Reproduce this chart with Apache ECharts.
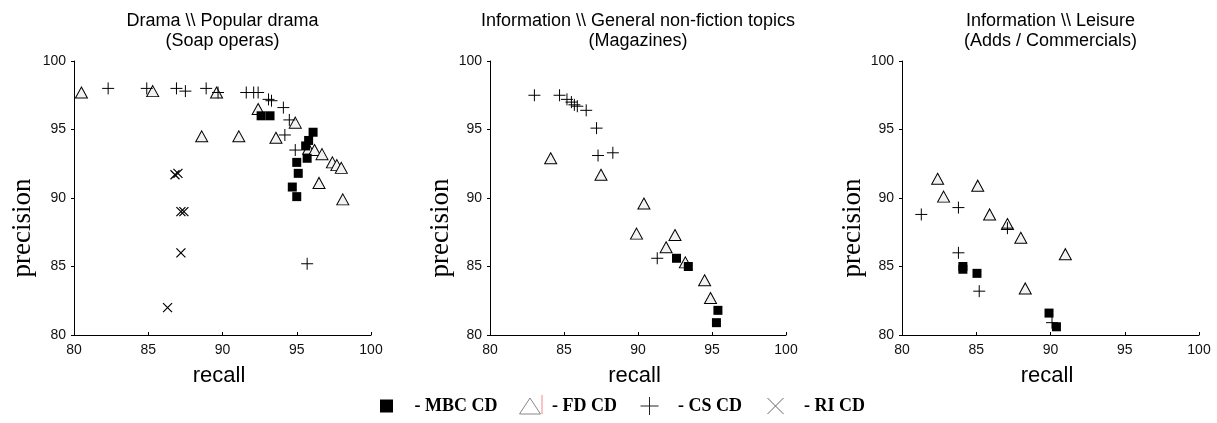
<!DOCTYPE html>
<html>
<head>
<meta charset="utf-8">
<script src="https://cdn.jsdelivr.net/npm/echarts@6/dist/echarts.min.js"></script>
<style>
html,body{margin:0;padding:0;background:#fff;}
#chart{width:1217px;height:423px;}
</style>
</head>
<body>
<div id="chart"></div>
<script>
// ---- Data (recall, precision) ----
var panelTitles = [
  'Drama \\\\ Popular drama\n(Soap operas)',
  'Information \\\\ General non-fiction topics\n(Magazines)',
  'Information \\\\ Leisure\n(Adds / Commercials)'
];
var seriesNames = ['MBC CD', 'FD CD', 'CS CD', 'RI CD'];
var axisTicks = [80, 85, 90, 95, 100];

// Panel 1: Drama \\ Popular drama (Soap operas)
var mbc1 = [[92.6,96.0],[93.2,96.0],[96.1,94.8],[95.8,94.2],[95.6,93.8],[95.7,92.9],[95.0,92.6],[95.1,91.8],[94.7,90.8],[95.0,90.1]];
var fd1 = [[80.5,97.7],[85.3,97.8],[89.6,97.7],[92.4,96.5],[94.9,95.5],[88.6,94.5],[91.1,94.5],[93.6,94.4],[95.8,93.6],[96.2,93.5],[96.7,93.2],[97.4,92.6],[97.7,92.4],[98.0,92.2],[96.5,91.1],[98.1,89.9]];
var cs1 = [[82.3,98.0],[84.9,98.0],[86.9,98.0],[87.5,97.8],[88.9,98.0],[89.7,97.7],[91.6,97.7],[92.1,97.7],[92.4,97.7],[93.1,97.2],[93.3,97.1],[94.1,96.6],[94.5,95.7],[94.2,94.6],[94.9,93.5],[95.7,85.2]];
var ri1 = [[86.8,91.7],[87.0,91.8],[87.2,89.0],[87.4,89.0],[87.2,86.0],[86.3,82.0]];

// Panel 2: Information \\ General non-fiction topics (Magazines)
var mbc2 = [[92.6,85.6],[93.4,85.0],[95.4,81.8],[95.3,80.9]];
var fd2 = [[84.1,92.9],[87.5,91.7],[90.4,89.6],[89.9,87.4],[92.5,87.3],[91.9,86.4],[93.2,85.3],[94.5,84.0],[94.9,82.7]];
var cs2 = [[83.0,97.5],[84.7,97.5],[85.2,97.2],[85.5,97.0],[85.7,96.8],[85.9,96.7],[86.5,96.4],[87.2,95.1],[87.3,93.1],[88.3,93.3],[91.3,85.6]];
var ri2 = [];

// Panel 3: Information \\ Leisure (Adds / Commercials)
var mbc3 = [[84.1,85.0],[84.1,84.8],[85.05,84.5],[89.9,81.6],[90.4,80.6]];
var fd3 = [[82.4,91.4],[82.8,90.1],[85.1,90.9],[85.9,88.8],[87.1,88.1],[88.0,87.1],[91.0,85.9],[88.3,83.4]];
var cs3 = [[81.3,88.8],[83.8,89.3],[87.1,87.8],[83.8,86.0],[85.2,83.2],[90.1,80.9]];
var ri3 = [];

// ---- Styling / layout ----
var SANS = "'Liberation Sans', Arial, sans-serif";
var SERIF = "'Liberation Serif', 'Times New Roman', serif";
var PLUS = 'path://M0,5L10,5M5,0L5,10';
var CROSS = 'path://M0,0L10,10M10,0L0,10';

var grids = [
  {left: 74, top: 61, width: 297, height: 274},
  {left: 490, top: 61, width: 296, height: 274},
  {left: 902, top: 61, width: 297, height: 274}
];
var yNameGaps = [38, 22, 15];

var panelData = [
  {mbc: mbc1, fd: fd1, cs: cs1, ri: ri1},
  {mbc: mbc2, fd: fd2, cs: cs2, ri: ri2},
  {mbc: mbc3, fd: fd3, cs: cs3, ri: ri3}
];

var xAxes = [], yAxes = [], titles = [], series = [];
grids.forEach(function (g, i) {
  xAxes.push({
    gridIndex: i, type: 'value', min: axisTicks[0], max: axisTicks[axisTicks.length - 1], interval: 5,
    name: 'recall', nameLocation: 'middle', nameGap: 30,
    nameTextStyle: {fontFamily: SANS, fontSize: 22, color: '#000', lineHeight: 22, padding: [0, 7, 0, 0]},
    axisLine: {show: true, lineStyle: {color: '#000', width: 1}},
    axisTick: {show: true, inside: true, length: 3, lineStyle: {color: '#000'}},
    axisLabel: {fontFamily: SANS, fontSize: 14, color: '#111', margin: 8},
    splitLine: {show: false}
  });
  yAxes.push({
    gridIndex: i, type: 'value', min: axisTicks[0], max: axisTicks[axisTicks.length - 1], interval: 5,
    name: 'precision', nameLocation: 'middle', nameGap: yNameGaps[i],
    nameTextStyle: {fontFamily: SERIF, fontSize: 27, color: '#000', lineHeight: 27, padding: [0, 60, 0, 0]},
    axisLine: {show: true, lineStyle: {color: '#000', width: 1}},
    axisTick: {show: true, inside: false, length: 3, lineStyle: {color: '#000'}},
    axisLabel: {fontFamily: SANS, fontSize: 14, color: '#111', margin: 8},
    splitLine: {show: false}
  });
  titles.push({
    text: panelTitles[i],
    left: g.left + g.width / 2, top: 11, textAlign: 'center', padding: 0,
    textStyle: {fontFamily: SANS, fontSize: 18, fontWeight: 'normal', color: '#000', lineHeight: 20}
  });
  var d = panelData[i];
  series.push({
    name: 'FD CD', type: 'scatter', xAxisIndex: i, yAxisIndex: i, data: d.fd,
    symbol: 'triangle', symbolSize: [12, 11],
    itemStyle: {color: '#f2f2f2', borderColor: '#000', borderWidth: 1, opacity: 1}
  });
  series.push({
    name: 'MBC CD', type: 'scatter', xAxisIndex: i, yAxisIndex: i, data: d.mbc,
    symbol: 'rect', symbolSize: 9,
    itemStyle: {color: '#000', opacity: 1}
  });
  series.push({
    name: 'CS CD', type: 'scatter', xAxisIndex: i, yAxisIndex: i, data: d.cs,
    symbol: PLUS, symbolSize: 12,
    itemStyle: {color: '#000', borderColor: '#000', borderWidth: 1, opacity: 1}
  });
  series.push({
    name: 'RI CD', type: 'scatter', xAxisIndex: i, yAxisIndex: i, data: d.ri,
    symbol: CROSS, symbolSize: 9,
    itemStyle: {color: '#000', borderColor: '#000', borderWidth: 1.2, opacity: 1}
  });
});
series.forEach(function (s) { s.emphasis = {disabled: true}; s.silent = true; });

function legendItem(name, icon, left, w, h, pad, style) {
  return {
    data: [{name: name, icon: icon, itemStyle: style}],
    left: left, top: 396, padding: 0, itemWidth: w, itemHeight: h,
    selectedMode: false,
    formatter: '- {name}',
    textStyle: {fontFamily: SERIF, fontWeight: 'bold', fontSize: 18, color: '#000', lineHeight: 20, padding: [0, 0, 0, pad]}
  };
}

var option = {
  animation: false,
  backgroundColor: '#fff',
  title: titles,
  grid: grids,
  xAxis: xAxes,
  yAxis: yAxes,
  legend: [
    legendItem(seriesNames[0], 'rect', 380, 13, 13, 16.5, {color: '#000', borderWidth: 0, opacity: 1}),
    legendItem(seriesNames[1], 'triangle', 519, 21, 16, 6.5, {color: '#fff', borderColor: '#888', borderWidth: 1, opacity: 1}),
    legendItem(seriesNames[2], PLUS, 640, 18, 18, 14.5, {color: '#000', borderColor: '#222', borderWidth: 1, opacity: 1}),
    legendItem(seriesNames[3], CROSS, 767, 16, 16, 15.5, {color: '#666', borderColor: '#666', borderWidth: 1, opacity: 1})
  ],
  graphic: [
    {type: 'line', shape: {x1: 542, y1: 395, x2: 542, y2: 414}, style: {stroke: '#f08a8a', lineWidth: 1}, silent: true}
  ],
  series: series
};

var chart = echarts.init(document.getElementById('chart'), null, {renderer: 'canvas'});
chart.setOption(option);
</script>
</body>
</html>
